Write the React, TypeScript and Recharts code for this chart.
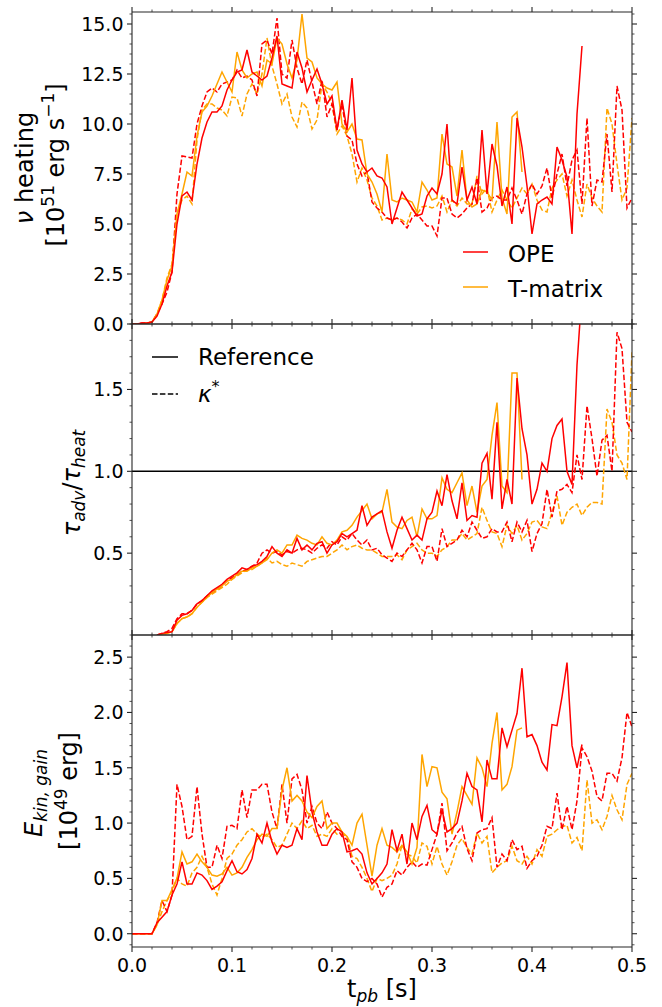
import React from 'react'
import { LineChart, Line, XAxis, YAxis, ReferenceLine } from 'recharts'

const RED = '#ff0000'
const ORANGE = '#ffa500'
const AXIS = '#262626'
const FONT = '"DejaVu Sans", sans-serif'
const DASH = '5.5 2.4'

// output times (s), one every 5 ms
const T = Array.from({ length: 101 }, (_, i) => Math.round(i * 5) / 1000)

const X_MAJOR = [0, 0.1, 0.2, 0.3, 0.4, 0.5]
const HEAT_MAJOR = [0, 2.5, 5, 7.5, 10, 12.5, 15]
const TAU_MAJOR = [0.5, 1.0, 1.5]
const EKIN_MAJOR = [0, 0.5, 1, 1.5, 2, 2.5]

// ─── ν heating [1e51 erg/s] ───────────────────────────────────────────────
const heatOpeRef = [
  0, 0, 0.05, 0.05, 0.1, 0.4, 1.0, 1.9, 2.6, 5.0,
  6.4, 6.6, 6.2, 8.0, 9.3, 10.1, 10.6, 10.6, 10.9, 11.7,
  12.2, 12.6, 12.7, 13.7, 12.6, 12.4, 12.2, 12.4, 13.3, 14.4,
  12.0, 11.9, 11.8, 13.6, 12.8, 11.6, 12.2, 12.75, 12.0, 11.0,
  11.4, 9.7, 11.2, 9.7, 12.3, 8.7, 8.0, 7.6, 7.8, 7.4,
  7.3, 6.85, 5.0, 5.8, 6.6, 6.2, 5.8, 5.4, 5.5, 6.4,
  6.8, 6.5, 7.5, 10.0, 6.2, 6.0, 7.85, 6.2, 6.85, 6.0,
  9.7, 6.5, 9.0, 7.9, 5.9, 6.85, 5.0, 10.3, 8.85, 6.9,
  4.5, 6.0, 6.2, 6.35, 6.0, 8.85, 8.2, 7.35, 4.5, 10.5,
  13.9,
]
const heatTmRef = [
  0, 0, 0, 0.05, 0.1, 0.5, 1.2, 2.2, 2.9, 5.5,
  6.5, 7.6, 7.4, 9.4, 10.6, 10.9, 11.4, 12.0, 12.6, 12.1,
  11.6, 13.6, 12.7, 12.3, 12.5, 12.6, 11.9, 13.2, 13.0, 14.3,
  14.0, 13.0, 12.3, 13.2, 15.5, 13.3, 13.1, 12.3, 12.0, 11.8,
  11.7, 12.1, 10.0, 9.6, 10.0, 9.25, 9.2, 7.5, 7.1, 6.5,
  5.6, 8.5, 6.2, 6.1, 6.3, 6.2, 6.1, 5.6, 7.1, 6.7,
  6.2, 6.3, 9.5, 8.0, 7.85, 6.4, 8.7, 6.2, 5.85, 6.0,
  6.7, 6.6, 6.2, 10.1, 6.3, 5.5, 10.35, 10.6, 7.6,
]
const heatOpeKappa = [
  0, 0, 0.05, 0.05, 0.1, 0.5, 1.0, 1.6, 2.6, 6.5,
  8.4, 8.35, 8.3, 10.0, 10.9, 11.6, 11.8, 11.6, 12.0, 12.1,
  12.2, 12.7, 12.3, 12.4, 12.2, 11.4, 14.0, 14.2, 13.5, 15.3,
  12.5, 12.3, 14.2, 12.8, 12.0, 13.2, 12.1, 11.0, 12.2, 10.35,
  11.0, 9.7, 11.0, 9.4, 9.2, 8.0, 7.4, 7.6, 6.1, 5.8,
  5.6, 5.3, 5.2, 5.3, 5.1, 4.8, 5.3, 5.5, 5.2, 4.9,
  4.9, 4.4, 6.3, 6.3, 5.5, 5.3, 5.5, 5.8, 6.0, 7.3,
  5.6, 5.8, 6.3, 6.4, 6.2, 6.2, 6.8, 6.2, 5.5, 6.5,
  7.0, 6.5, 6.9, 7.8, 6.3, 7.5, 8.5, 6.9, 8.2, 8.7,
  6.0, 10.3, 5.9, 7.2, 7.1, 9.5, 6.6, 11.9, 10.7, 5.8,
  6.3,
]
const heatTmKappa = [
  0, 0, 0, 0.05, 0.1, 0.5, 1.2, 2.3, 3.0, 5.5,
  6.2, 6.4, 6.0, 9.2, 10.7, 11.0, 11.0, 10.8, 10.7, 10.4,
  11.35, 11.3, 10.4, 11.5, 12.0, 11.5, 12.5, 14.3, 12.9, 12.0,
  11.0, 11.5, 10.35, 9.85, 11.1, 10.8, 9.75, 10.2, 12.0, 11.6,
  11.0, 9.5, 9.9, 9.4, 8.5, 7.1, 7.8, 7.2, 6.3, 5.9,
  5.2, 5.3, 5.2, 5.3, 5.2, 5.0, 5.75, 5.5, 5.85, 5.9,
  5.8, 5.9, 6.4, 5.6, 6.2, 5.9, 6.3, 6.0, 6.0, 7.4,
  6.5, 6.8, 5.6, 6.2, 6.7, 6.2, 5.8, 6.3, 6.8, 6.5,
  7.0, 6.2, 5.7, 5.6, 6.8, 7.2, 7.5, 6.4, 7.2, 6.2,
  5.35, 7.0, 6.3, 5.9, 5.6, 10.8, 10.0, 8.0, 6.2, 6.8,
  10.3,
]

// ─── τ_adv / τ_heat ───────────────────────────────────────────────────────
const tauOpeRef = [
  null, null, null, null, null, 0.0, 0.01, 0.015, 0.02, 0.09,
  0.12, 0.13, 0.15, 0.19, 0.21, 0.24, 0.27, 0.29, 0.31, 0.34,
  0.36, 0.38, 0.41, 0.40, 0.42, 0.43, 0.45, 0.48, 0.54, 0.50,
  0.48, 0.52, 0.50, 0.59, 0.52, 0.55, 0.52, 0.56, 0.57, 0.50,
  0.55, 0.57, 0.62, 0.60, 0.62, 0.64, 0.79, 0.67, 0.72, 0.74,
  0.76, 0.63, 0.53, 0.64, 0.72, 0.65, 0.58, 0.61, 0.58, 0.71,
  0.75, 0.88, 0.79, 0.98, 0.82, 0.71, 0.93, 0.70, 0.73, 0.72,
  1.05, 1.11, 0.83, 1.3, 0.77, 0.95, 0.8, 1.57, 1.26, 1.1,
  0.8, 0.89, 1.05, 1.0, 1.2, 1.28, 1.32, 1.0, 0.92, 1.65,
  2.1,
]
const tauTmRef = [
  null, null, null, null, null, 0.0, 0.005, 0.01, 0.02, 0.07,
  0.10, 0.11, 0.13, 0.17, 0.20, 0.23, 0.26, 0.28, 0.30, 0.33,
  0.34, 0.37, 0.39, 0.39, 0.41, 0.42, 0.44, 0.46, 0.50, 0.52,
  0.50, 0.55, 0.55, 0.61, 0.59, 0.58, 0.56, 0.55, 0.60, 0.56,
  0.55, 0.58, 0.63, 0.64, 0.67, 0.72, 0.76, 0.80, 0.71, 0.74,
  0.75, 0.89, 0.69, 0.66, 0.65, 0.70, 0.72, 0.6, 0.77, 0.71,
  0.71, 0.73, 0.96, 0.89, 0.87, 0.93, 0.99, 0.79, 0.91, 0.75,
  0.91, 0.95, 1.22, 1.42, 0.91, 0.87, 1.6, 1.6, 0.95,
]
const tauOpeKappa = [
  null, null, null, null, null, 0.0, 0.01, 0.02, 0.04, 0.10,
  0.13, 0.13, 0.15, 0.19, 0.21, 0.24, 0.26, 0.28, 0.30, 0.33,
  0.35, 0.37, 0.39, 0.40, 0.42, 0.44, 0.50, 0.52, 0.50, 0.51,
  0.49, 0.51, 0.50, 0.52, 0.53, 0.52, 0.50, 0.53, 0.55, 0.53,
  0.57, 0.55, 0.60, 0.58, 0.62, 0.58, 0.55, 0.58, 0.52, 0.53,
  0.49, 0.47, 0.45, 0.5, 0.48, 0.52, 0.56, 0.52, 0.44, 0.54,
  0.54, 0.45, 0.65, 0.54, 0.56, 0.58, 0.64, 0.6, 0.69, 0.64,
  0.59, 0.6, 0.65, 0.63, 0.63, 0.69, 0.57, 0.69, 0.63, 0.7,
  0.51, 0.62, 0.68, 0.89, 0.72, 0.88, 0.89, 0.92, 0.87, 1.1,
  0.95, 1.4, 1.2, 0.97, 1.19, 1.22, 1.0, 1.85, 1.75, 1.3,
  1.24,
]
const tauTmKappa = [
  null, null, null, null, null, 0.0, 0.005, 0.01, 0.02, 0.07,
  0.10, 0.11, 0.13, 0.17, 0.20, 0.23, 0.25, 0.27, 0.29, 0.31,
  0.34, 0.36, 0.38, 0.40, 0.40, 0.42, 0.44, 0.47, 0.44, 0.45,
  0.43, 0.42, 0.44, 0.43, 0.42, 0.45, 0.46, 0.47, 0.48, 0.48,
  0.50, 0.52, 0.55, 0.52, 0.54, 0.55, 0.53, 0.52, 0.52, 0.50,
  0.48, 0.48, 0.48, 0.49, 0.46, 0.52, 0.54, 0.56, 0.52, 0.50,
  0.50, 0.48, 0.52, 0.54, 0.58, 0.58, 0.62, 0.58, 0.60, 0.62,
  0.78, 0.7, 0.63, 0.62, 0.54, 0.67, 0.62, 0.67, 0.58, 0.62,
  0.69, 0.70, 0.66, 0.65, 0.75, 0.85, 0.67, 0.75, 0.78, 0.80,
  0.73, 0.78, 0.81, 0.81, 0.8, 1.38, 1.3, 1.1, 1.05, 0.95,
  1.73,
]

// ─── E_kin,gain [1e49 erg] ────────────────────────────────────────────────
const ekinOpeRef = [
  0, 0, 0, 0, 0, 0.1, 0.15, 0.2, 0.35, 0.45,
  0.65, 0.45, 0.45, 0.55, 0.53, 0.48, 0.40, 0.43, 0.47, 0.57,
  0.66, 0.56, 0.54, 0.58, 0.68, 0.9, 0.82, 1.0, 0.83, 0.72,
  0.8, 0.78, 0.8, 0.95, 0.85, 1.43, 1.1, 0.92, 0.8, 0.8,
  0.9, 0.95, 0.92, 0.74, 0.75, 0.77, 0.72, 0.55, 0.45, 0.5,
  0.55, 0.63, 0.94, 0.75, 0.9, 0.63, 1.0, 0.85, 1.06, 1.16,
  0.94, 0.9, 1.12, 0.92, 0.95, 1.0, 1.2, 1.45, 1.33, 1.3,
  1.01, 1.57, 1.40, 1.4, 1.86, 1.69, 1.84, 1.99, 2.40, 1.78,
  1.8, 1.7, 1.55, 1.48, 1.89, 1.88, 2.14, 2.45, 1.7, 1.5,
  1.71,
]
const ekinTmRef = [
  0, 0, 0, 0, 0, 0.08, 0.3, 0.3, 0.4, 0.5,
  0.74, 0.63, 0.65, 0.72, 0.65, 0.6, 0.53, 0.52, 0.54, 0.6,
  0.53, 0.55, 0.6, 0.69, 0.76, 0.85, 0.9, 0.88, 0.95, 0.95,
  1.3, 1.5, 1.2, 1.25, 1.2, 1.1, 1.05, 1.15, 1.2, 0.95,
  1.0, 1.0, 0.92, 0.88, 0.8, 1.0, 1.08, 0.8, 0.52, 0.8,
  0.95, 0.8, 0.78, 0.74, 0.8, 0.74, 0.63, 0.78, 1.62, 1.33,
  1.51, 1.5, 1.28, 1.22, 0.9, 1.1, 1.33, 1.25, 1.17, 1.59,
  1.5, 1.33, 1.72, 2.0, 1.3, 1.35, 1.51, 1.84, 1.86,
]
const ekinOpeKappa = [
  0, 0, 0, 0, 0, 0.1, 0.3, 0.2, 0.35, 1.35,
  1.15, 0.85, 0.88, 1.33, 0.9, 0.6, 0.6, 0.8, 0.68, 0.97,
  0.98, 0.95, 1.3, 1.05, 1.3, 1.3, 1.35, 1.35, 1.1, 0.95,
  1.35, 1.0, 1.4, 1.44, 1.3, 1.0, 1.15, 1.0, 0.95, 1.1,
  1.0, 0.95, 0.88, 0.85, 0.65, 0.6, 0.5, 0.47, 0.5, 0.45,
  0.33, 0.42, 0.45, 0.57, 0.53, 0.6, 0.65, 0.6, 0.63, 0.62,
  0.76, 0.9, 1.18, 0.75, 0.82, 0.91, 0.97, 0.77, 0.66, 0.91,
  0.94, 0.95, 1.05, 0.6, 0.72, 0.66, 0.85, 0.76, 0.79, 0.59,
  0.66, 0.7, 0.8, 0.97, 0.95, 1.27, 0.94, 1.15, 0.94, 1.2,
  1.68, 1.6, 1.47, 1.24, 1.2, 1.45, 1.45, 1.38, 1.59, 2.0,
  1.87,
]
const ekinTmKappa = [
  0, 0, 0, 0, 0, 0.08, 0.2, 0.3, 0.38, 0.5,
  0.45, 0.43, 0.55, 0.6, 0.7, 0.6, 0.45, 0.35, 0.5, 0.68,
  0.72, 0.8, 0.85, 0.92, 0.95, 0.9, 0.87, 0.9, 0.85, 0.78,
  0.8, 0.9, 1.0, 0.95, 1.02, 0.95, 0.98, 0.88, 0.9, 0.88,
  0.95, 0.9, 0.9, 0.88, 0.7, 0.68, 0.6, 0.5, 0.38, 0.5,
  0.48, 0.5, 0.53, 0.63, 0.8, 0.72, 0.7, 0.64, 0.82, 0.79,
  0.63, 0.79, 0.63, 0.53, 0.65, 0.8, 0.86, 0.78, 0.72, 0.91,
  0.82, 0.88, 0.55, 0.6, 0.64, 0.66, 0.79, 0.66, 0.63, 0.7,
  0.63, 0.76, 0.7, 0.88, 0.9, 0.94, 0.97, 0.98, 0.82, 0.87,
  0.75, 1.39, 1.0, 1.03, 0.94, 1.06, 1.25, 1.12, 1.03, 1.35,
  1.45,
]

const steps = (a: number, b: number, s: number) => {
  const out: number[] = []
  for (let v = a; v <= b + 1e-9; v += s) out.push(Math.round(v * 1000) / 1000)
  return out
}
const X_TICKS = steps(0, 0.5, 0.02)

const rowsOf = (opeRef: any[], tmRef: any[], opeKappa: any[], tmKappa: any[]) =>
  T.map((t, i) => ({
    t,
    opeRef: opeRef[i] ?? null,
    tmRef: tmRef[i] ?? null,
    opeKappa: opeKappa[i] ?? null,
    tmKappa: tmKappa[i] ?? null,
  }))

const near = (list: number[], v: number) => list.some(m => Math.abs(m - v) < 1e-6)

const xTick = (side: 'top' | 'bottom', labels: boolean) => (p: any) => {
  const v = p.payload.value
  const major = near(X_MAJOR, v)
  const len = major ? 5 : 2.5
  const d = side === 'top' ? -1 : 1
  return (
    <g>
      <line x1={p.x} x2={p.x} y1={p.y} y2={p.y + d * len} stroke={AXIS} strokeWidth={major ? 1.1 : 0.8} />
      {labels && major && (
        <text x={p.x} y={p.y + 25} textAnchor="middle" fontSize={19} fontFamily={FONT} fill="#000">
          {v.toFixed(1)}
        </text>
      )}
    </g>
  )
}

const yTick = (side: 'left' | 'right', majors: number[]) => (p: any) => {
  const v = p.payload.value
  const major = near(majors, v)
  const len = major ? 5 : 2.5
  const d = side === 'left' ? -1 : 1
  return (
    <g>
      <line x1={p.x} x2={p.x + d * len} y1={p.y} y2={p.y} stroke={AXIS} strokeWidth={major ? 1.1 : 0.8} />
      {side === 'left' && major && (
        <text x={p.x - 8.5} y={p.y + 6.8} textAnchor="end" fontSize={19} fontFamily={FONT} fill="#000">
          {v.toFixed(1)}
        </text>
      )}
    </g>
  )
}

const SERIES = [
  { key: 'tmKappa', color: ORANGE, dash: DASH },
  { key: 'opeKappa', color: RED, dash: DASH },
  { key: 'tmRef', color: ORANGE, dash: undefined },
  { key: 'opeRef', color: RED, dash: undefined },
]

interface PanelProps {
  top: number
  height: number
  mTop: number
  mBottom: number
  rows: any[]
  domain: [number, number]
  ticks: number[]
  majors: number[]
  xLabels?: boolean
  refLine?: number
}

// axes take 1px each, so the plot box is margin + 1 inside the chart
function Panel({ top, height, mTop, mBottom, rows, domain, ticks, majors, xLabels = false, refLine }: PanelProps) {
  const axisLine = { stroke: AXIS, strokeWidth: 1.1 }
  return (
    <div style={{ position: 'absolute', left: 0, top }}>
      <LineChart width={662} height={height} data={rows} margin={{ top: mTop, right: 29, bottom: mBottom, left: 0 }}>
        <XAxis xAxisId="b" dataKey="t" type="number" domain={[0, 0.5]} allowDataOverflow ticks={X_TICKS}
          interval={0} height={1} tickSize={0} tickMargin={0} tickLine={false} axisLine={axisLine}
          tick={xTick('bottom', xLabels)} />
        <XAxis xAxisId="t" orientation="top" dataKey="t" type="number" domain={[0, 0.5]} allowDataOverflow ticks={X_TICKS}
          interval={0} height={1} tickSize={0} tickMargin={0} tickLine={false} axisLine={axisLine}
          tick={xTick('top', false)} />
        <YAxis yAxisId="l" type="number" domain={domain} allowDataOverflow ticks={ticks} interval={0} width={132}
          tickSize={0} tickMargin={0} tickLine={false} axisLine={axisLine} tick={yTick('left', majors)} />
        <YAxis yAxisId="r" orientation="right" type="number" domain={domain} allowDataOverflow ticks={ticks} interval={0}
          width={1} tickSize={0} tickMargin={0} tickLine={false} axisLine={axisLine} tick={yTick('right', majors)} />
        {refLine !== undefined && (
          <ReferenceLine xAxisId="b" yAxisId="l" y={refLine} stroke="#000" strokeWidth={1.5} />
        )}
        {SERIES.map(s => (
          <Line key={s.key} xAxisId="b" yAxisId="l" dataKey={s.key} type="linear" stroke={s.color}
            strokeWidth={1.5} strokeDasharray={s.dash} dot={false} activeDot={false}
            isAnimationActive={false} connectNulls={false} />
        ))}
      </LineChart>
    </div>
  )
}

const txt = { fontFamily: FONT, fill: '#000' }

export default function App() {
  return (
    <div style={{ position: 'absolute', left: 0, top: 0, width: 662, height: 1007, background: '#fff' }}>
      <style>{'.recharts-surface{overflow:visible}'}</style>
      <Panel top={0} height={325} mTop={11} mBottom={0} rows={rowsOf(heatOpeRef, heatTmRef, heatOpeKappa, heatTmKappa)}
        domain={[0, 15.6]} ticks={steps(0, 15.5, 0.5)} majors={HEAT_MAJOR} />
      <Panel top={323} height={313} mTop={0} mBottom={0} rows={rowsOf(tauOpeRef, tauTmRef, tauOpeKappa, tauTmKappa)}
        domain={[0, 1.9]} ticks={steps(0.1, 1.9, 0.1)} majors={TAU_MAJOR} refLine={1} />
      <Panel top={634} height={373} mTop={0} mBottom={59} rows={rowsOf(ekinOpeRef, ekinTmRef, ekinOpeKappa, ekinTmKappa)}
        domain={[-0.12, 2.7]} ticks={steps(-0.1, 2.7, 0.1)} majors={EKIN_MAJOR} xLabels />

      <svg width={662} height={1007} style={{ position: 'absolute', left: 0, top: 0, pointerEvents: 'none' }}>
        {/* legend: models */}
        <line x1={463} x2={488} y1={252} y2={252} stroke={RED} strokeWidth={1.5} />
        <text x={508} y={262} fontSize={23} {...txt}>OPE</text>
        <line x1={463} x2={488} y1={287} y2={287} stroke={ORANGE} strokeWidth={1.5} />
        <text x={508} y={297} fontSize={23} {...txt}>T-matrix</text>

        {/* legend: line styles */}
        <line x1={152} x2={178} y1={357} y2={357} stroke="#000" strokeWidth={1.5} />
        <text x={198} y={365} fontSize={23} {...txt}>Reference</text>
        <line x1={152} x2={178} y1={394} y2={394} stroke="#000" strokeWidth={1.5} strokeDasharray={DASH} />
        <text x={198} y={402} fontSize={23} {...txt}>
          <tspan fontStyle="italic">κ</tspan>
          <tspan dy={-10} fontSize={16}>*</tspan>
        </text>

        {/* y labels */}
        <text transform="translate(33,168) rotate(-90)" textAnchor="middle" fontSize={24} {...txt}>
          <tspan fontStyle="italic">ν</tspan> heating
        </text>
        <text transform="translate(64,165) rotate(-90)" textAnchor="middle" fontSize={24} {...txt}>
          [10<tspan dy={-10} fontSize={17}>51</tspan>
          <tspan dy={10}> erg s</tspan>
          <tspan dy={-10} fontSize={17}>−1</tspan>
          <tspan dy={10}>]</tspan>
        </text>
        <text transform="translate(80,483) rotate(-90)" textAnchor="middle" fontSize={24} {...txt}>
          <tspan fontStyle="italic">τ</tspan>
          <tspan dy={5} fontSize={17} fontStyle="italic">adv</tspan>
          <tspan dy={-5}>/</tspan>
          <tspan fontStyle="italic">τ</tspan>
          <tspan dy={5} fontSize={17} fontStyle="italic">heat</tspan>
        </text>
        <text transform="translate(42,793) rotate(-90)" textAnchor="middle" fontSize={24} {...txt}>
          <tspan fontStyle="italic">E</tspan>
          <tspan dy={5} fontSize={17} fontStyle="italic">kin, gain</tspan>
        </text>
        <text transform="translate(77,791) rotate(-90)" textAnchor="middle" fontSize={24} {...txt}>
          [10<tspan dy={-10} fontSize={17}>49</tspan>
          <tspan dy={10}> erg]</tspan>
        </text>

        {/* x label */}
        <text x={382} y={997} textAnchor="middle" fontSize={24} {...txt}>
          t<tspan dy={5} fontSize={17} fontStyle="italic">pb</tspan>
          <tspan dy={-5}> [s]</tspan>
        </text>
      </svg>
    </div>
  )
}
